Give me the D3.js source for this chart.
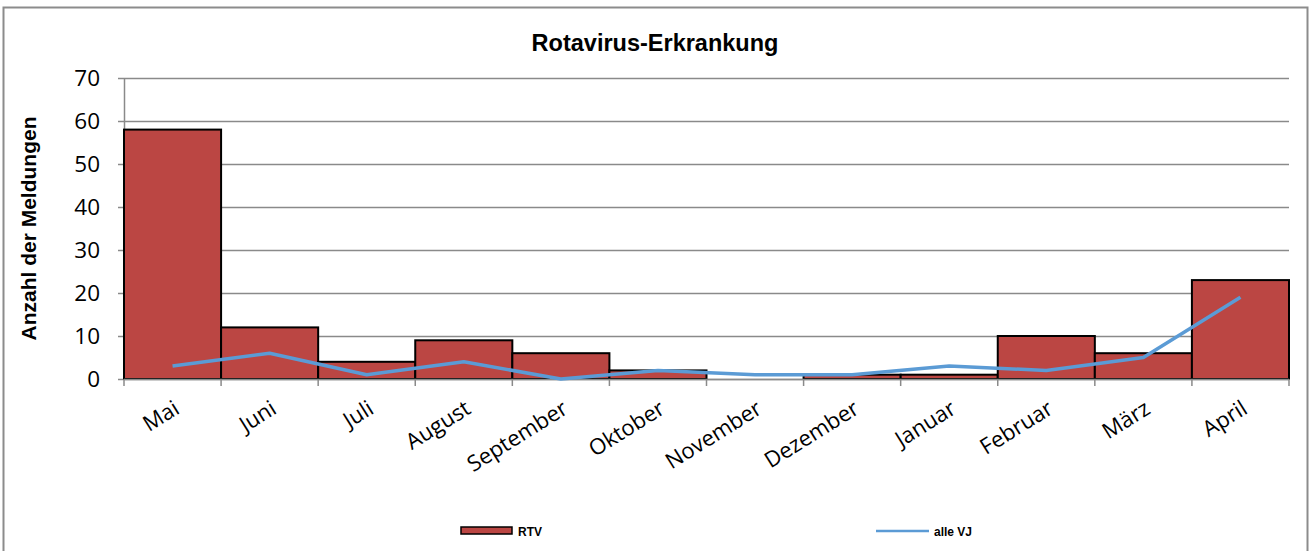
<!DOCTYPE html>
<html><head><meta charset="utf-8">
<script src="https://cdn.jsdelivr.net/npm/d3@7"></script>
<style>body{margin:0;background:#fff}svg{display:block}</style>
</head><body>
<script>
const months = ["Mai","Juni","Juli","August","September","Oktober","November","Dezember","Januar","Februar","März","April"];
const rtv = [58,12,4,9,6,2,0,1,1,10,6,23];
const alleVJ = [3,6,1,4,0,2,1,1,3,2,5,19];
const yTicks = [0,10,20,30,40,50,60,70];
const seriesNames = ["RTV","alle VJ"];

const W=1310,H=551;
const svg=d3.select("body").append("svg").attr("width",W).attr("height",H);
svg.append("rect").attr("x",3.5).attr("y",7.5).attr("width",1304).attr("height",560)
  .attr("fill","#fff").attr("stroke","#8c8c8c").attr("stroke-width",2);

const L=124,R=1289,T=78,B=379;
const x=d3.scaleBand().domain(months).range([L,R]).padding(0);
const y=d3.scaleLinear().domain([0,70]).range([B,T]);

// gridlines
svg.append("g").selectAll("line").data(yTicks).join("line")
  .attr("x1",118).attr("x2",R).attr("y1",d=>Math.round(y(d))+0.5).attr("y2",d=>Math.round(y(d))+0.5)
  .attr("stroke","#8a8a8a").attr("stroke-width",1.5);
// y axis line
svg.append("line").attr("x1",L+0.5).attr("x2",L+0.5).attr("y1",T).attr("y2",B).attr("stroke","#8a8a8a").attr("stroke-width",1.5);
// y labels
svg.append("g").selectAll("text").data(yTicks).join("text")
  .attr("x",100).attr("y",d=>y(d)).attr("dy","0.36em").attr("text-anchor","end")
  .attr("font-family","'Open Sans',sans-serif").attr("font-size",22.5).attr("fill","#000").text(d=>d);

// bars
svg.append("g").selectAll("rect").data(rtv).join("rect")
  .attr("x",(d,i)=>x(months[i])).attr("width",x.bandwidth())
  .attr("y",d=>y(d)).attr("height",d=>B-y(d))
  .attr("fill","#BB4643").attr("stroke","#000").attr("stroke-width",d=>d>0?2:0);

// x axis
svg.append("line").attr("x1",L).attr("x2",R).attr("y1",B+0.5).attr("y2",B+0.5).attr("stroke","#8a8a8a").attr("stroke-width",1.5);
const bounds=months.map(m=>x(m)).concat([R]);
svg.append("g").selectAll("line").data(bounds).join("line")
  .attr("x1",d=>d).attr("x2",d=>d).attr("y1",B).attr("y2",B+7).attr("stroke","#8a8a8a").attr("stroke-width",1.5);
svg.append("g").selectAll("text").data(months).join("text")
  .attr("transform",d=>`translate(${x(d)+x.bandwidth()/2},${B+20}) rotate(-32)`)
  .attr("text-anchor","end").attr("dy","0.72em")
  .attr("font-family","'Open Sans',sans-serif").attr("font-size",22).attr("fill","#000").text(d=>d);

// line
const line=d3.line().x((d,i)=>x(months[i])+x.bandwidth()/2).y(d=>y(d));
svg.append("path").datum(alleVJ).attr("d",line).attr("fill","none")
  .attr("stroke","#5B9BD5").attr("stroke-width",3.5).attr("stroke-linejoin","round");

// title
svg.append("text").attr("x",655).attr("y",50.5).attr("text-anchor","middle")
  .attr("font-family","'Liberation Sans',Arial,sans-serif").attr("font-weight","bold").attr("font-size",23.5).text("Rotavirus-Erkrankung");
// y title
svg.append("text").attr("transform","translate(36,228.5) rotate(-90)").attr("text-anchor","middle")
  .attr("font-family","'Liberation Sans',Arial,sans-serif").attr("font-weight","bold").attr("font-size",21).text("Anzahl der Meldungen");

// legend
const lg=svg.append("g").attr("font-family","'Liberation Sans',Arial,sans-serif").attr("font-weight","bold").attr("font-size",12);
lg.append("rect").attr("x",461).attr("y",527).attr("width",51).attr("height",7).attr("fill","#BB4643").attr("stroke","#000").attr("stroke-width",1.5);
lg.append("text").attr("x",518).attr("y",535.5).text(seriesNames[0]);
lg.append("line").attr("x1",876).attr("x2",929).attr("y1",531).attr("y2",531).attr("stroke","#5B9BD5").attr("stroke-width",2.5);
lg.append("text").attr("x",934).attr("y",535.5).text(seriesNames[1]);
</script>
</body></html>
